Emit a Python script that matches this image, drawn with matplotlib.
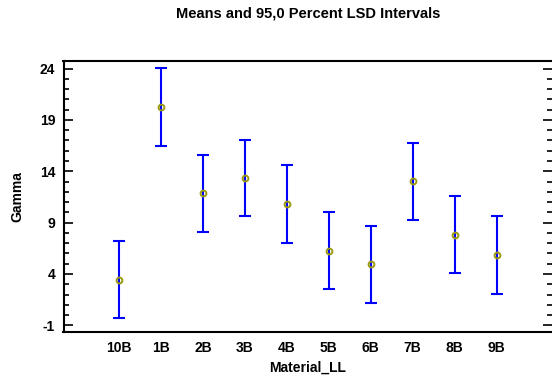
import matplotlib
matplotlib.use("Agg")
import matplotlib.pyplot as plt
from matplotlib.ticker import MultipleLocator, FixedLocator

categories = ["10B", "1B", "2B", "3B", "4B", "5B", "6B", "7B", "8B", "9B"]
means = [3.42, 20.26, 11.86, 13.32, 10.82, 6.27, 4.94, 13.04, 7.80, 5.85]
lower = [-0.31, 16.49, 8.09, 9.60, 7.05, 2.54, 1.21, 9.26, 4.07, 2.08]
upper = [7.19, 24.03, 15.60, 17.05, 14.60, 10.02, 8.70, 16.78, 11.57, 9.62]
yticks = [-1, 4, 9, 14, 19, 24]

plt.rcParams['font.family'] = ['Liberation Sans', 'DejaVu Sans']
plt.rcParams['font.weight'] = 'bold'

fig = plt.figure(figsize=(5.52, 3.76), dpi=100)
ax = fig.add_axes([63.5/552, 1-331.7/376, 1-63.5/552, (331.7-60.7)/376])

x = list(range(len(categories)))
yerr = [[m - l for m, l in zip(means, lower)], [u - m for m, u in zip(means, upper)]]
ax.errorbar(x, means, yerr=yerr, fmt='none', ecolor='#0000ff', elinewidth=1.5,
            capsize=4.5, capthick=1.5, zorder=2)
ax.plot(x, means, linestyle='none', marker='o', markersize=4.2, mfc='none',
        mec='#9c9a10', mew=1.4, zorder=3)

ax.set_xlim(-1.32, 10.32)
ax.set_ylim(-1.62, 24.77)
ax.set_xticks(x)
ax.set_xticklabels(categories, fontsize=10, fontweight='bold')
ax.tick_params(axis='x', length=0, pad=7)
ax.yaxis.set_major_locator(FixedLocator(yticks))
ax.yaxis.set_minor_locator(MultipleLocator(1))
ax.set_yticklabels([str(t) for t in yticks], fontsize=10, fontweight='bold')
ax.tick_params(axis='y', which='major', direction='in', length=6.5, width=1.2,
               left=True, right=True, pad=6)
ax.tick_params(axis='y', which='minor', direction='in', length=3.5, width=1.2,
               left=True, right=True)
for s in ['left', 'bottom', 'top']:
    ax.spines[s].set_linewidth(1.5)
ax.spines['right'].set_visible(False)

ax.set_xlabel("Material_LL", fontsize=10, fontweight='bold', labelpad=4)
ax.set_ylabel("Gamma", fontsize=10, fontweight='bold', labelpad=11)
fig.text(308/552, 1-14/376, "Means and 95,0 Percent LSD Intervals", ha='center', va='center',
         fontsize=10.5, fontweight='bold')

fig.savefig("out.png", dpi=100)
